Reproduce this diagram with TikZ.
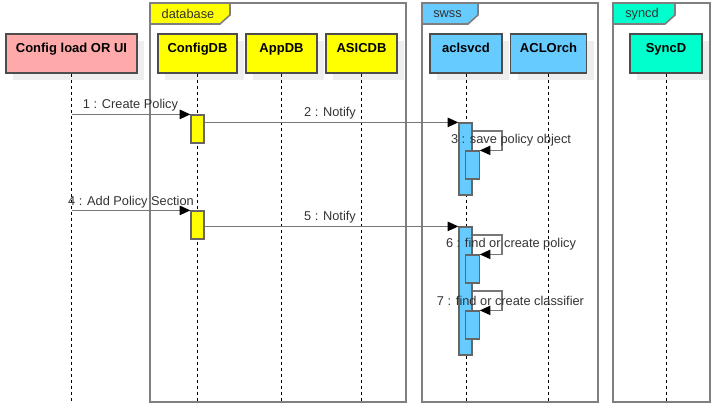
\documentclass[tikz,border=0pt]{standalone}
\usepackage{fontspec}
\setmainfont{Liberation Sans}
\usetikzlibrary{arrows.meta,shadows}
\definecolor{pinkh}{HTML}{FFAAAA}
\definecolor{yellowh}{HTML}{FFFF00}
\definecolor{blueh}{HTML}{66CCFF}
\definecolor{tealh}{HTML}{00FFCC}
\definecolor{framegray}{HTML}{7F7F7F}
\definecolor{headborder}{HTML}{4D4D4D}
\definecolor{shadowgray}{HTML}{EEEEEE}
\definecolor{actborder}{HTML}{666666}
\definecolor{msggray}{HTML}{777777}
\definecolor{labelgray}{HTML}{333333}
\begin{document}
\begin{tikzpicture}[x=0.75pt,y=-0.75pt,
  frame/.style={draw=framegray, line width=1.5pt},
  tabshape/.style={draw=framegray, line width=1.2pt},
  head/.style={draw=headborder, line width=1pt, inner xsep=0pt, inner ysep=0pt,
    text height=13.75pt, text depth=15.5pt, minimum height=29.25pt,
    font=\bfseries\fontsize{9.75}{12}\selectfont, text=black,
    general shadow={fill=shadowgray, shadow xshift=5.25pt, shadow yshift=-5.25pt}},
  life/.style={draw=black, line width=0.75pt, dash pattern=on 2.25pt off 2.25pt},
  act/.style={draw=actborder, line width=0.9pt, minimum width=9.75pt, minimum height=21pt, inner sep=0pt},
  msg/.style={draw=msggray, line width=1pt, -{Triangle[length=8pt,width=7pt,color=black]}},
  lbl/.style={font=\fontsize{9.6}{12}\selectfont, text=labelgray, inner sep=0pt},
]
\useasboundingbox (0,0) rectangle (717,409);

% frames
\draw[frame] (150,3) rectangle (406,402);
\draw[tabshape, fill=yellowh] (150,3) -- (230,3) -- (230,15) -- (220,24) -- (150,24) -- cycle;
\node[lbl] (fdb) at (188,14) {database};
\draw[frame] (422,3) rectangle (598,402);
\draw[tabshape, fill=blueh] (422,3) -- (478,3) -- (478,15) -- (468,24) -- (422,24) -- cycle;
\node[lbl] (fswss) at (447.5,14) {swss};
\draw[frame] (613,3) rectangle (710,402);
\draw[tabshape, fill=tealh] (613,3) -- (675,3) -- (675,15) -- (665,24) -- (613,24) -- cycle;
\node[lbl] (fsyncd) at (642,14) {syncd};

% heads
\node[head, fill=pinkh, minimum width=98.25pt] (cfg) at (71.5,53.5) {Config load OR UI};
\node[head, fill=yellowh, minimum width=59.25pt] (cdb) at (197.5,53.5) {ConfigDB};
\node[head, fill=yellowh, minimum width=53.25pt] (adb) at (281.5,53.5) {AppDB};
\node[head, fill=yellowh, minimum width=53.25pt] (sdb) at (361.5,53.5) {ASICDB};
\node[head, fill=blueh, minimum width=54pt] (acl) at (466,53.5) {aclsvcd};
\node[head, fill=blueh, minimum width=57pt] (orch) at (548.5,53.5) {ACLOrch};
\node[head, fill=tealh, minimum width=54pt] (sync) at (666,53.5) {SyncD};

% lifelines
\foreach \n in {cfg,cdb,adb,sdb,acl,orch,sync}
  \draw[life] (\n.south) -- (\n.south |- 0,402);

% activations
\node[act, fill=yellowh] (a1) at (197.5,129) {};
\node[act, fill=yellowh] (a2) at (197.5,225) {};
\node[act, fill=blueh, minimum height=54pt] (aA) at (465.5,159) {};
\node[act, fill=blueh, minimum width=10pt] (nA) at (472.5,165) {};
\node[act, fill=blueh, minimum height=96pt] (aB) at (465.5,291) {};
\node[act, fill=blueh, minimum width=10pt] (nB1) at (472.5,269) {};
\node[act, fill=blueh, minimum width=10pt] (nB2) at (472.5,325) {};

\coordinate (s3) at (502,131);
\coordinate (s6) at (502,235);
\coordinate (s7) at (502,291);

% messages
\draw[msg] (cfg |- a1.north west) -- (a1.north west);
\draw[msg] (a1.east |- aA.north west) -- (aA.north west);
\draw[msg] (aA.east |- s3) -- (s3) |- (nA.north east);
\draw[msg] (cfg |- a2.north west) -- (a2.north west);
\draw[msg] (a2.east |- aB.north west) -- (aB.north west);
\draw[msg] (aB.east |- s6) -- (s6) |- (nB1.north east);
\draw[msg] (aB.east |- s7) -- (s7) |- (nB2.north east);

% labels
\node[lbl] (l1) at (130.5,105.5) {1 : Create Policy};
\node[lbl] (l2) at (330,113.5) {2 : Notify};
\node[lbl] (l3) at (511,140.5) {3 : save policy object};
\node[lbl] (l4) at (131,202) {4 : Add Policy Section};
\node[lbl] (l5) at (330,217.5) {5 : Notify};
\node[lbl] (l6) at (511,244.5) {6 : find or create policy};
\node[lbl] (l7) at (510.5,300.5) {7 : find or create classifier};
\end{tikzpicture}
\end{document}
